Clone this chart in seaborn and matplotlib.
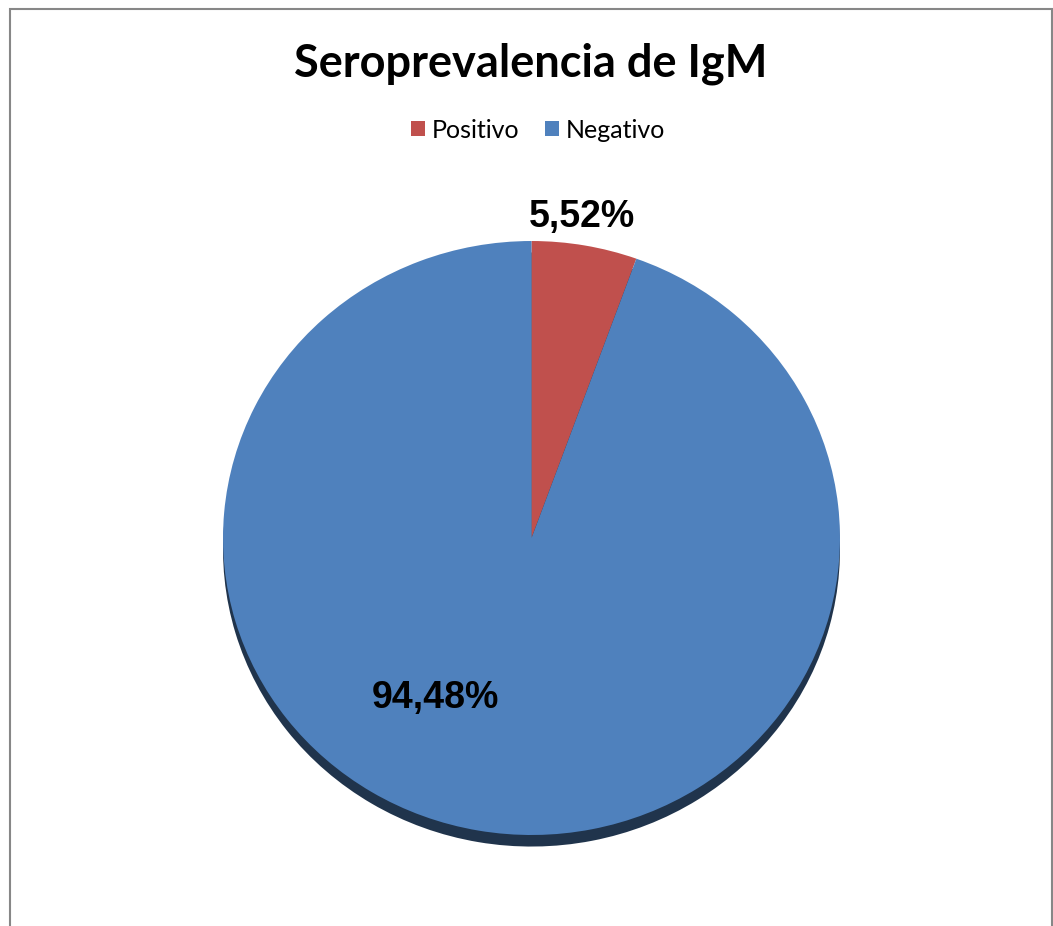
import matplotlib.pyplot as plt
import matplotlib.patches as mpatches
import seaborn as sns

# Datos del gráfico
categorias = ["Positivo", "Negativo"]
porcentajes = [5.52, 94.48]
colores = ["#C0504D", "#4F81BD"]
titulo = "Seroprevalencia de IgM"

sns.set_style("white")
plt.rcParams["font.family"] = ["Lato", "DejaVu Sans"]
plt.rcParams["text.color"] = "black"

fig = plt.figure(figsize=(10.53, 9.26), dpi=100)
ax = fig.add_axes([0.1825, 0.0662, 0.6445, 0.7056])

wedges, textos, pct = ax.pie(
    porcentajes,
    labels=categorias,
    labeldistance=None,
    colors=colores,
    startangle=90,
    counterclock=False,
    autopct=lambda p: f"{p:.2f}%".replace(".", ","),
    pctdistance=1.1,
    shadow={"ox": 0.0, "oy": -0.028, "shade": 0.6, "alpha": 1},
    wedgeprops={"linewidth": 0},
    textprops={"family": "Liberation Sans", "weight": "bold", "size": 27,
               "color": "black"},
)
# perspectiva ligeramente achatada, como en el original
ax.set_aspect("auto")
ax.set_xlim(-1.1, 1.1)
ax.set_ylim(-1.1, 1.1)
ax.axis("off")

# posiciones de las etiquetas como en Excel
pct[0].set_position((0.162, 1.08))
pct[1].set_position((-0.313, -0.539))

fig.text(0.504, 0.931, titulo, ha="center", va="center",
         fontsize=32.5, fontweight="bold", color="black")

fig.legend(wedges, categorias, loc="center", bbox_to_anchor=(0.511, 0.8596),
           ncol=2, frameon=False, fontsize=18, handlelength=0.56,
           handleheight=0.56, handletextpad=0.3, columnspacing=1.0,
           labelcolor="black")

# marco del área del gráfico
marco = mpatches.Rectangle((0.00997, -0.02), 0.98863, 1.0108,
                           transform=fig.transFigure, fill=False,
                           edgecolor="#878787", linewidth=1.5)
fig.patches.append(marco)

plt.savefig("out.png", dpi=100)
